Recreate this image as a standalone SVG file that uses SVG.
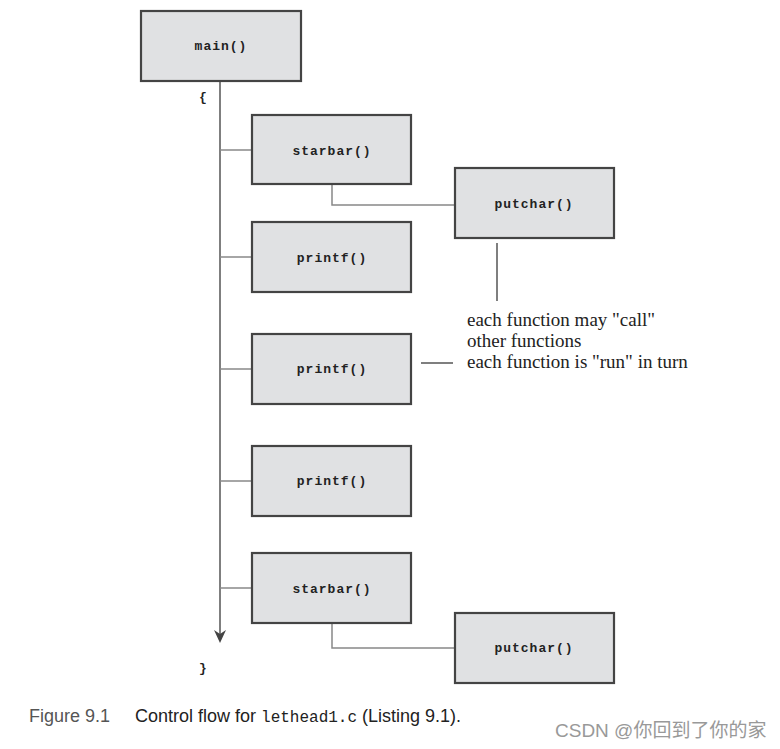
<svg xmlns="http://www.w3.org/2000/svg" width="780" height="749" viewBox="0 0 780 749">
<defs>
<style>
.box{fill:#e0e1e3;stroke:#444;stroke-width:2.2}
.lbl{font-family:"Liberation Mono",monospace;font-size:13px;letter-spacing:1px;fill:#222;text-anchor:middle;font-weight:bold}
.ln{stroke:#555;stroke-width:1.5;fill:none}
.ln2{stroke:#888;stroke-width:1.5;fill:none}
.note{font-family:"Liberation Serif",serif;font-size:19px;fill:#222}
.brace{font-family:"Liberation Mono",monospace;font-size:13px;font-weight:bold;fill:#222}
</style>
</defs>
<rect width="780" height="749" fill="#fff"/>
<g id="connectors">
<line class="ln" x1="220" y1="81" x2="220" y2="636"/>
<polygon points="214,630 220,634 226,630 220,643" fill="#444"/>
<line class="ln2" x1="220" y1="150" x2="252" y2="150"/>
<line class="ln2" x1="220" y1="257" x2="252" y2="257"/>
<line class="ln2" x1="220" y1="369" x2="252" y2="369"/>
<line class="ln2" x1="220" y1="481" x2="252" y2="481"/>
<line class="ln2" x1="220" y1="588" x2="252" y2="588"/>
<polyline class="ln2" points="332,184 332,205 455,205"/>
<polyline class="ln2" points="332,623 332,648 455,648"/>
<line class="ln" x1="497" y1="243" x2="497" y2="301"/>
<line class="ln" x1="421" y1="363" x2="453" y2="363"/>
</g>
<g id="main"><rect class="box" x="141" y="11" width="160" height="70"/><text class="lbl" x="221" y="50">main()</text></g>
<g id="starbar1"><rect class="box" x="252" y="115" width="159" height="69"/><text class="lbl" x="332" y="155">starbar()</text></g>
<g id="putchar1"><rect class="box" x="455" y="168" width="159" height="70"/><text class="lbl" x="534" y="208">putchar()</text></g>
<g id="printf1"><rect class="box" x="252" y="222" width="159" height="70"/><text class="lbl" x="332" y="262">printf()</text></g>
<g id="printf2"><rect class="box" x="252" y="334" width="159" height="70"/><text class="lbl" x="332" y="373">printf()</text></g>
<g id="printf3"><rect class="box" x="252" y="446" width="159" height="70"/><text class="lbl" x="332" y="485">printf()</text></g>
<g id="starbar2"><rect class="box" x="252" y="553" width="159" height="70"/><text class="lbl" x="332" y="593">starbar()</text></g>
<g id="putchar2"><rect class="box" x="455" y="613" width="159" height="70"/><text class="lbl" x="534" y="652">putchar()</text></g>
<text class="brace" x="199" y="101">{</text>
<text class="brace" x="199" y="672">}</text>
<g id="notes">
<text class="note" x="467" y="326">each function may "call"</text>
<text class="note" x="467" y="347">other functions</text>
<text class="note" x="467" y="368">each function is "run" in turn</text>
</g>
<g id="caption">
<text x="29" y="722" font-family="'Liberation Sans',sans-serif" font-size="18" fill="#555">Figure 9.1</text>
<text x="135" y="722" font-family="'Liberation Sans',sans-serif" font-size="18" fill="#222">Control flow for <tspan font-family="'Liberation Mono',monospace" font-size="16">lethead1.c</tspan> (Listing 9.1).</text>
<text x="555" y="737" font-family="'Liberation Sans','Noto Sans CJK SC',sans-serif" font-size="19" fill="#999">CSDN @你回到了你的家</text>
</g>
</svg>
